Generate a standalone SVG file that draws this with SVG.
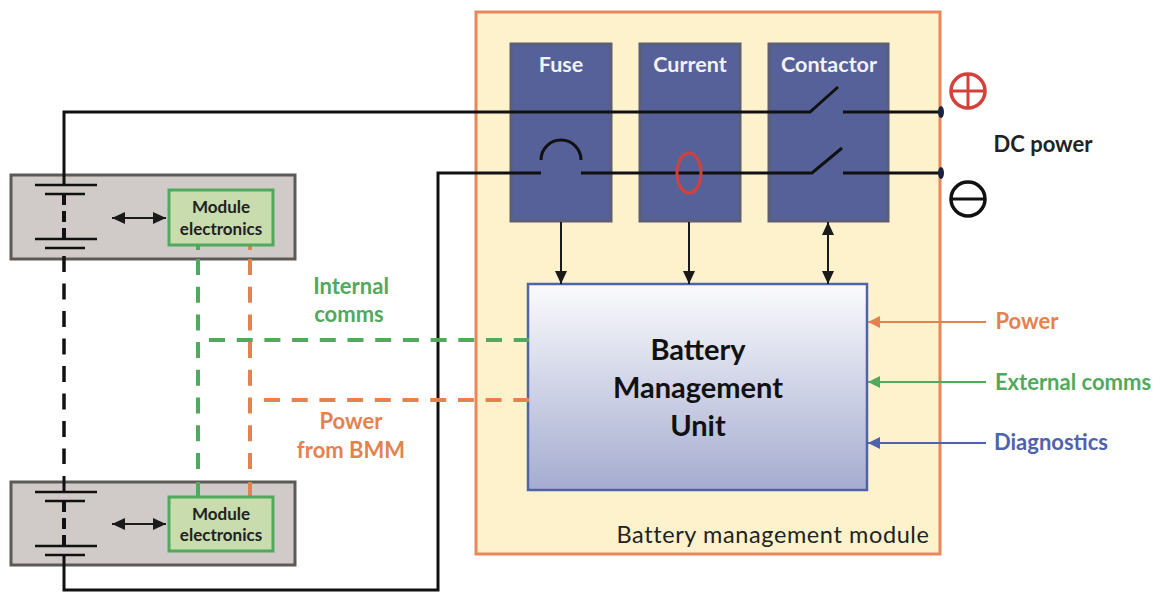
<svg xmlns="http://www.w3.org/2000/svg" width="1160" height="592" viewBox="0 0 1160 592">
<style>
text{font-family:"Lato","Open Sans","Liberation Sans",sans-serif;font-weight:700;text-anchor:middle}
.blue{fill:#566199;stroke:#5a5f75;stroke-width:3}
.mod{fill:#d0cbc8;stroke:#5c5a58;stroke-width:3}
.me{fill:#c8dcae;stroke:#50a95c;stroke-width:3}
.w{fill:none;stroke:#111;stroke-width:3}
.p{fill:none;stroke:#111;stroke-width:2.5}
.thin{fill:none;stroke:#1a1a1a;stroke-width:2}
.g{stroke:#50a95c}.o{stroke:#e5814f}.b{stroke:#4f63ab}
.dash{fill:none;stroke-width:4;stroke-dasharray:16 11.7}
.solid{fill:none;stroke-width:4}
.lab{font-size:22px}
.wt{fill:#f3f3f6;font-size:21.5px}
.metxt{fill:#222;font-size:17px}
.bm{font-size:29px;fill:#111}
</style>
<defs>
<linearGradient id="bmu" x1="0" y1="0" x2="0" y2="1"><stop offset="0" stop-color="#fbfbfd"/><stop offset="1" stop-color="#a5acd0"/></linearGradient>
<marker id="k" markerWidth="14" markerHeight="12" refX="13" refY="6" orient="auto-start-reverse" markerUnits="userSpaceOnUse"><path d="M0 0L13 6L0 12z" fill="#1a1a1a"/></marker>
<marker id="mo" markerWidth="14" markerHeight="12" refX="12" refY="6" orient="auto" markerUnits="userSpaceOnUse"><path d="M0 0L12 6L0 12z" fill="#e5814f"/></marker>
<marker id="mg" markerWidth="14" markerHeight="12" refX="12" refY="6" orient="auto" markerUnits="userSpaceOnUse"><path d="M0 0L12 6L0 12z" fill="#50a95c"/></marker>
<marker id="mb" markerWidth="14" markerHeight="12" refX="12" refY="6" orient="auto" markerUnits="userSpaceOnUse"><path d="M0 0L12 6L0 12z" fill="#4f63ab"/></marker>
</defs>
<rect width="1160" height="592" fill="#fff"/>
<g id="module-bmm"><rect x="476" y="12" width="464" height="542" fill="#fdf2cc" stroke="#e9875a" stroke-width="3"/>
<text x="773" y="543" style="font-weight:400;letter-spacing:.6px" font-size="23.5" fill="#222">Battery management module</text></g>
<g id="fuse"><rect class="blue" x="511" y="44" width="100" height="177"/><text class="wt" x="561" y="72">Fuse</text></g>
<g id="current"><rect class="blue" x="640" y="44" width="100" height="177"/><text class="wt" x="690" y="72">Current</text></g>
<g id="contactor"><rect class="blue" x="769" y="44" width="119" height="177"/><text class="wt" x="829" y="72">Contactor</text></g>
<g id="bmu-node"><rect x="528" y="284" width="339" height="206" fill="url(#bmu)" stroke="#4f63ab" stroke-width="2.5"/>
<text class="bm" x="698" y="360">Battery</text><text class="bm" x="698" y="398">Management</text><text class="bm" x="698" y="436">Unit</text></g>
<g id="module-1"><rect class="mod" x="11" y="175" width="284" height="84"/></g>
<g id="module-2"><rect class="mod" x="11" y="482" width="284" height="83"/></g>
<g id="connectors">
<path class="w" d="M64 185V112H810L838 87M843 112H941"/>
<path class="w" d="M64 555V590H438V173H541M581 173H812L842 148M843 173H941"/>
<path d="M541 160A20 20 0 0 1 581 160" fill="none" stroke="#111" stroke-width="3"/>
<ellipse cx="689" cy="173" rx="12" ry="20" fill="none" stroke="#d5403a" stroke-width="3"/>
<ellipse cx="941" cy="112" rx="3" ry="6" fill="#1c2340"/><ellipse cx="941" cy="173" rx="3" ry="6" fill="#1c2340"/>
<path class="p" d="M35 185H97M45 194H85M35 239H97M45 248H85"/>
<path class="p" d="M35 492H97M45 501H85M35 546H97M45 555H85"/>
<path d="M64 194V239M64 501V546" stroke="#111" stroke-width="4" stroke-dasharray="11 6" fill="none"/>
<path d="M64 256V464" stroke="#111" stroke-width="3.5" stroke-dasharray="16 11.5" fill="none"/>
<path d="M64 476V492" stroke="#111" stroke-width="3" fill="none"/>
<path class="dash o" d="M250 259V472" stroke-dasharray="16 11.5"/>
<path class="solid o" d="M250 246V250M250 482V497"/>
<path class="dash o" d="M264 400H529"/>
<path class="dash g" d="M198 259V472"/>
<path class="solid g" d="M198 246V250M198 482V497"/>
<path class="dash g" d="M209 340H529"/>
<path class="thin" d="M112 218H166" marker-start="url(#k)" marker-end="url(#k)"/>
<path class="thin" d="M112 524H166" marker-start="url(#k)" marker-end="url(#k)"/>
<path class="thin" d="M561 222V284" marker-end="url(#k)"/>
<path class="thin" d="M689 222V284" marker-end="url(#k)"/>
<path class="thin" d="M828 222V284" marker-start="url(#k)" marker-end="url(#k)"/>
<path d="M986 322H868" fill="none" stroke-width="2" class="o" marker-end="url(#mo)"/>
<path d="M986 382H868" fill="none" stroke-width="2" class="g" marker-end="url(#mg)"/>
<path d="M986 443H868" fill="none" stroke-width="2" class="b" marker-end="url(#mb)"/>
</g>
<g id="me-1"><rect class="me" x="169" y="190" width="104" height="55"/><text class="metxt" x="221" y="213">Module</text><text class="metxt" x="221" y="235">electronics</text></g>
<g id="me-2"><rect class="me" x="169" y="497" width="104" height="54"/><text class="metxt" x="221" y="520">Module</text><text class="metxt" x="221" y="541">electronics</text></g>
<g id="plus"><circle cx="968" cy="91" r="17" fill="none" stroke="#d5403a" stroke-width="3.5"/><path d="M951 91H985M968 74V108" stroke="#d5403a" stroke-width="3" fill="none"/></g>
<g id="minus"><circle cx="968" cy="199" r="17" fill="none" stroke="#111" stroke-width="3.5"/><path d="M951 199H985" stroke="#111" stroke-width="3" fill="none"/></g>
<g id="labels">
<text class="lab" x="1043" y="152" fill="#222">DC power</text>
<text class="lab" x="351" y="294" fill="#50a95c">Internal</text><text class="lab" x="349" y="322" fill="#50a95c">comms</text>
<text class="lab" x="351" y="429" fill="#e5814f">Power</text><text class="lab" x="351" y="458" fill="#e5814f">from BMM</text>
<text class="lab" x="1027" y="329" fill="#e5814f">Power</text>
<text class="lab" x="1073" y="390" fill="#50a95c">External comms</text>
<text class="lab" x="1051" y="450" fill="#4f63ab">Diagnostics</text>
</g>
</svg>
